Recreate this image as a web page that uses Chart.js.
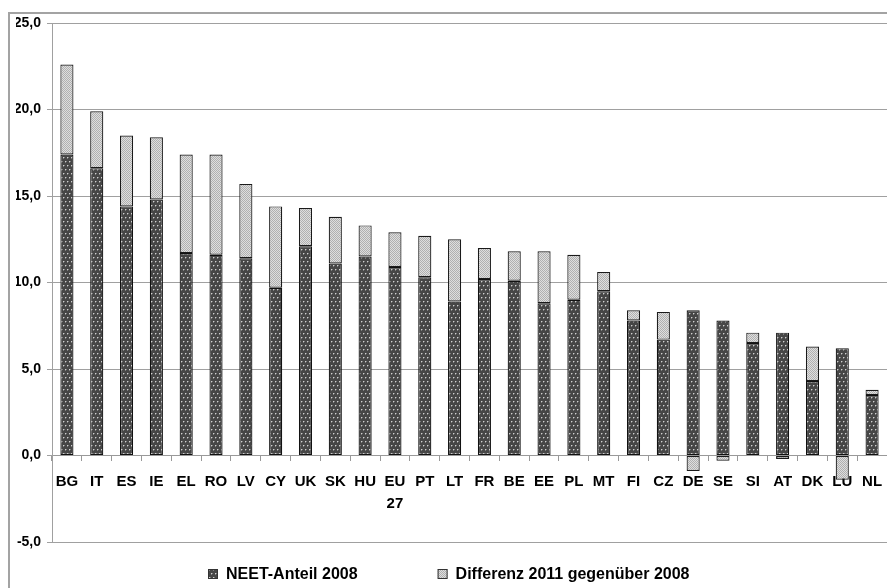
<!DOCTYPE html>
<html><head><meta charset="utf-8">
<script src="https://cdn.jsdelivr.net/npm/chart.js@4.4.1/dist/chart.umd.min.js"></script>
<style>html,body{margin:0;padding:0;background:#fff;overflow:hidden}canvas{display:block}</style>
</head><body>
<canvas id="c" width="887" height="588"></canvas>
<script>
const categories = ['BG','IT','ES','IE','EL','RO','LV','CY','UK','SK','HU',['EU','27'],'PT','LT','FR','BE','EE','PL','MT','FI','CZ','DE','SE','SI','AT','DK','LU','NL'];
const neet2008 = [17.4,16.6,14.4,14.8,11.7,11.6,11.4,9.7,12.1,11.1,11.5,10.9,10.3,8.9,10.2,10.1,8.8,9.0,9.5,7.8,6.7,8.4,7.8,6.5,7.1,4.3,6.2,3.5];
const diff2011 = [5.2,3.3,4.1,3.6,5.7,5.8,4.3,4.7,2.2,2.7,1.8,2.0,2.4,3.6,1.8,1.7,3.0,2.6,1.1,0.6,1.6,-0.9,-0.3,0.6,-0.2,2.0,-1.4,0.3];
const seriesLabels = ['NEET-Anteil 2008','Differenz 2011 gegenüber 2008'];
const yMin = -5, yMax = 25, yStep = 5;

const FONT = '"Liberation Sans", Arial, sans-serif';

function makeDarkPattern(ctx){
  const t = document.createElement('canvas'); t.width = 4; t.height = 8;
  const g = t.getContext('2d');
  g.fillStyle = '#464646'; g.fillRect(0,0,4,8);
  g.fillStyle = '#cfcfcf'; g.fillRect(1,1,1,1); g.fillRect(3,5,1,1);
  g.fillStyle = '#7e7e7e'; g.fillRect(2,1,1,1); g.fillRect(0,5,1,1); g.fillRect(1,2,1,1); g.fillRect(3,6,1,1);
  return ctx.createPattern(t,'repeat');
}
function makeLightPattern(ctx){
  const t = document.createElement('canvas'); t.width = 2; t.height = 2;
  const g = t.getContext('2d');
  g.fillStyle = '#dedede'; g.fillRect(0,0,2,2);
  g.fillStyle = '#b0b0b0'; g.fillRect(0,0,1,1); g.fillRect(1,1,1,1);
  return ctx.createPattern(t,'repeat');
}

const canvas = document.getElementById('c');
const ctx0 = canvas.getContext('2d');
const darkPat = makeDarkPattern(ctx0);
const lightPat = makeLightPattern(ctx0);

const framePlugin = {
  id: 'frame',
  beforeDraw(chart){
    const c = chart.ctx;
    c.save();
    c.strokeStyle = '#a3a3a3';
    c.lineWidth = 2;
    c.beginPath();
    c.moveTo(9, 588); c.lineTo(9, 13); c.lineTo(887, 13);
    c.stroke();
    c.restore();
  }
};

const legendPlugin = {
  id: 'customLegend',
  afterDraw(chart){
    const c = chart.ctx;
    c.save();
    c.font = 'bold 16px ' + FONT;
    c.textBaseline = 'middle';
    const items = chart.data.datasets.map(d => ({text: d.label, fill: d.backgroundColor, w: c.measureText(d.label).width}));
    const box = 10, tg = 8, gap = 80;
    let x = 208;
    const y = 574;
    items.forEach(it => {
      c.fillStyle = it.fill;
      c.fillRect(x, y - 5, box, box);
      c.strokeStyle = '#333';
      c.lineWidth = 1;
      c.strokeRect(x + 0.5, y - 4.5, box - 1, box - 1);
      c.fillStyle = '#000';
      c.fillText(it.text, x + box + tg, y + 1);
      x += box + tg + it.w + gap;
    });
    c.restore();
  }
};

new Chart(canvas, {
  type: 'bar',
  data: {
    labels: categories,
    datasets: [
      {label: seriesLabels[0], data: neet2008, backgroundColor: darkPat, borderColor: '#111', borderWidth: 1.2, borderSkipped: false},
      {label: seriesLabels[1], data: diff2011, backgroundColor: lightPat, borderColor: '#1a1a1a', borderWidth: 1.2, borderSkipped: false}
    ]
  },
  options: {
    responsive: false,
    animation: false,
    devicePixelRatio: 1,
    layout: {padding: {left: 16, top: 23, right: 0, bottom: 46}},
    datasets: {bar: {categoryPercentage: 1, barPercentage: 0.44}},
    plugins: {legend: {display: false}, tooltip: {enabled: false}},
    scales: {
      x: {
        stacked: true,
        position: {y: 0},
        afterFit(scale){ scale.paddingLeft = 0; scale.paddingRight = 0; },
        grid: {drawOnChartArea: false, drawTicks: true, tickLength: 5, offset: true, color: '#999'},
        border: {display: true, color: '#999', width: 1},
        ticks: {color: '#000', font: {family: FONT, size: 15, weight: 'bold', lineHeight: 1.5}, padding: 10, maxRotation: 0, autoSkip: false}
      },
      y: {
        stacked: true,
        min: yMin, max: yMax,
        afterFit(scale){ scale.width = 36; },
        grid: {color: '#a0a0a0', tickLength: 5, drawTicks: true},
        border: {display: true, color: '#a0a0a0'},
        ticks: {stepSize: yStep, padding: 6, color: '#000', font: {family: FONT, size: 14, weight: 'bold'},
          callback: v => v.toFixed(1).replace('.', ',')}
      }
    }
  },
  plugins: [framePlugin, legendPlugin]
});
</script>
</body></html>
